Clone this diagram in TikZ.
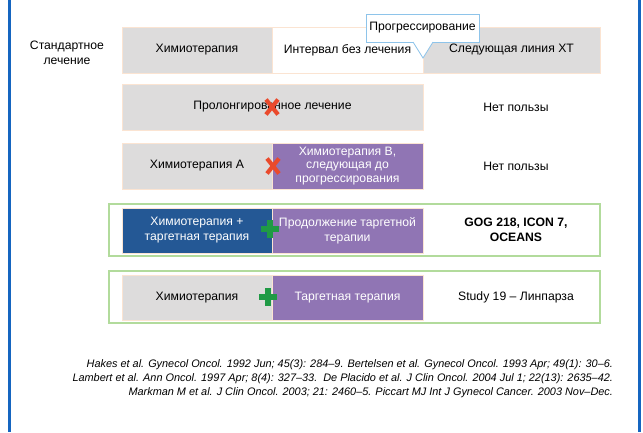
\documentclass[tikz,border=0pt]{standalone}
\usepackage{fontspec}
\setmainfont{Liberation Sans}
\definecolor{boxgray}{HTML}{DDDCDC}
\definecolor{boxpurple}{HTML}{9075B4}
\definecolor{boxblue}{HTML}{245895}
\definecolor{frameblue}{HTML}{1565C0}
\definecolor{framegreen}{HTML}{B2DB9C}
\definecolor{crossred}{HTML}{EA4A2C}
\definecolor{plusgreen}{HTML}{1F9A45}
\definecolor{peach}{HTML}{FBE4D2}
\definecolor{calloutblue}{HTML}{8EC4EA}
\begin{document}
\begin{tikzpicture}[x=1pt,y=-1pt,
  every node/.style={font=\fontsize{12.2}{14}\selectfont, inner sep=0pt, outer sep=0pt},
  cell/.style={anchor=north west, draw=peach, line width=0.8pt, minimum height=46pt, align=center},
  graycell/.style={cell, fill=boxgray, text=black},
  whitecell/.style={cell, fill=white, text=black},
  purplecell/.style={cell, fill=boxpurple, text=white},
  bluecell/.style={cell, fill=boxblue, text=white},
  greenframe/.style={anchor=north west, draw=framegreen, line width=1.2pt, minimum width=491pt, minimum height=52pt},
  result/.style={text=black, align=center},
  xmark/.style={draw=crossred, line width=4.2pt},
  plusmark/.style={draw=plusgreen, line width=6pt},
  callout/.style={anchor=north west, draw=calloutblue, line width=0.8pt, fill=white, minimum width=113pt, minimum height=28pt}
]
\useasboundingbox (0,0) rectangle (643,432);
\fill[white] (0,0) rectangle (643,432);
% side frame lines
\fill[frameblue] (8,0) rectangle (11,432);
\fill[frameblue] (638,0) rectangle (641,432);

% label
\node[align=center, font=\fontsize{12.2}{15}\selectfont] (std) at (67,53) {Стандартное\\лечение};

% row 1
\node[graycell, minimum width=150pt] (r1a) at (122,27) {Химиотерапия};
\node[whitecell, minimum width=151pt] (r1b) at (272,27) {Интервал без лечения};
\node[graycell, minimum width=177pt] (r1c) at (423,27) {Следующая линия ХТ};

% callout
\node[callout] (prog) at (366,14) {Прогрессирование};
\coordinate (pl) at (413,42);
\coordinate (pt) at (423,58);
\coordinate (pr) at (433,42);
\fill[white] (pl) -- (pt) -- (pr) -- cycle;
\draw[calloutblue, line width=0.8pt] (pl) -- (pt) -- (pr);

% row 2
\node[graycell, minimum width=301pt] (r2a) at (122,84) {Пролонгированное лечение};
\node[result] (r2r) at (516,107) {Нет пользы};
\begin{scope}[shift={(272,107)}]
\draw[xmark] (-6,-7.5) -- (6,7.5) (-6,7.5) -- (6,-7.5);
\end{scope}

% row 3
\node[graycell, minimum width=150pt] (r3a) at (122,143) {Химиотерапия А};
\node[purplecell, minimum width=151pt, font=\fontsize{12.2}{13.8}\selectfont] (r3b) at (272,143) {Химиотерапия В,\\следующая до\\прогрессирования};
\node[result] (r3r) at (516,166) {Нет пользы};
\begin{scope}[shift={(273,166)}]
\draw[xmark] (-6,-7.5) -- (6,7.5) (-6,7.5) -- (6,-7.5);
\end{scope}

% row 4
\node[greenframe] (f4) at (109,204) {};
\node[bluecell, minimum width=150pt, minimum height=45pt, font=\fontsize{12.2}{15}\selectfont] (r4a) at (122,208) {Химиотерапия +\\таргетная терапия};
\node[purplecell, minimum width=151pt, minimum height=45pt, font=\fontsize{12.2}{15}\selectfont] (r4b) at (272,208) {Продолжение таргетной\\терапии};
\node[result, font=\bfseries\fontsize{12.2}{15}\selectfont] (r4r) at (516,230) {GOG 218, ICON 7,\\OCEANS};
\begin{scope}[shift={(270,229)}]
\draw[plusmark] (-9,0) -- (9,0) (0,-9) -- (0,9);
\end{scope}

% row 5
\node[greenframe] (f5) at (109,271) {};
\node[graycell, minimum width=150pt, minimum height=45pt] (r5a) at (122,275) {Химиотерапия};
\node[purplecell, minimum width=151pt, minimum height=45pt] (r5b) at (272,275) {Таргетная терапия};
\node[result] (r5r) at (516,297) {Study 19 – Линпарза};
\begin{scope}[shift={(268,297)}]
\draw[plusmark] (-9,0) -- (9,0) (0,-9) -- (0,9);
\end{scope}

% references
\node[anchor=north east, align=right, font=\itshape\fontsize{10.9}{14}\selectfont] (refs) at (613,360)
{Hakes et al. Gynecol Oncol. 1992 Jun; 45(3): 284–9. Bertelsen et al. Gynecol Oncol. 1993 Apr; 49(1): 30–6.\\
Lambert et al. Ann Oncol. 1997 Apr; 8(4): 327–33.\ \ De Placido et al. J Clin Oncol. 2004 Jul 1; 22(13): 2635–42.\\
Markman M et al. J Clin Oncol. 2003; 21: 2460–5. Piccart MJ Int J Gynecol Cancer. 2003 Nov–Dec.};
\end{tikzpicture}
\end{document}
